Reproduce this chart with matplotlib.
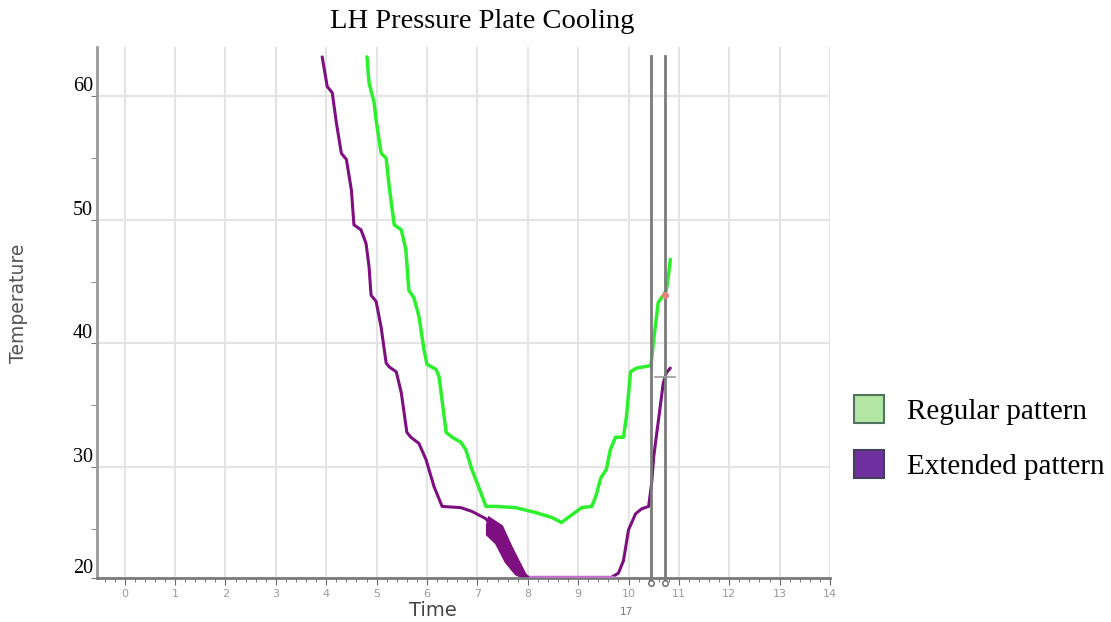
import matplotlib
matplotlib.use('Agg')
import matplotlib.pyplot as plt
from matplotlib.patches import Patch
from matplotlib.ticker import MultipleLocator

# curva patron regular (verde)
reg_x = [4.81, 4.85, 4.95, 4.99, 5.09, 5.19, 5.25, 5.35, 5.49, 5.58, 5.64, 5.74, 5.84,
         5.94, 6.00, 6.18, 6.24, 6.38, 6.50, 6.67, 6.77, 6.89, 7.07, 7.17, 7.37, 7.76,
         8.16, 8.48, 8.67, 8.87, 9.07, 9.27, 9.35, 9.45, 9.56, 9.64, 9.74, 9.90, 9.96,
         10.04, 10.16, 10.44, 10.46, 10.50, 10.59, 10.69, 10.75, 10.79, 10.83]
reg_y = [63.2, 61.1, 59.5, 58.1, 55.4, 55.0, 52.7, 49.6, 49.2, 47.6, 44.3, 43.7, 42.2,
         39.5, 38.3, 37.9, 37.3, 32.8, 32.4, 32.0, 31.4, 29.8, 27.9, 26.8, 26.8, 26.7,
         26.3, 25.9, 25.5, 26.1, 26.7, 26.8, 27.6, 29.1, 29.8, 31.4, 32.4, 32.4, 34.1,
         37.7, 38.0, 38.2, 38.7, 40.3, 43.3, 43.9, 44.3, 45.4, 46.8]

# curva patron extendido (violeta)
ext_x = [3.92, 4.02, 4.12, 4.20, 4.30, 4.40, 4.50, 4.55, 4.69, 4.79, 4.85, 4.89, 4.99,
         5.09, 5.19, 5.25, 5.39, 5.49, 5.60, 5.68, 5.84, 5.98, 6.14, 6.30, 6.67, 6.89,
         7.17, 7.40, 7.60, 7.80, 8.02, 8.36, 9.66, 9.80, 9.90, 10.00, 10.14, 10.26,
         10.40, 10.46, 10.50, 10.55, 10.63, 10.69, 10.75, 10.83]
ext_y = [63.2, 60.8, 60.3, 57.9, 55.4, 54.9, 52.4, 49.6, 49.2, 48.1, 46.2, 43.9, 43.4,
         41.3, 38.4, 38.1, 37.7, 36.0, 32.8, 32.4, 31.9, 30.6, 28.4, 26.8, 26.7, 26.4,
         25.8, 24.6, 22.8, 21.6, 21.05, 21.05, 21.05, 21.4, 22.4, 24.9, 26.2, 26.6,
         26.8, 28.7, 30.8, 32.4, 34.9, 36.8, 37.6, 38.0]

# tramo plano del fondo (se ve mas claro)
fondo_x = [8.05, 9.70]
fondo_y = [21.1, 21.1]

# zona ruidosa (banda gruesa) del violeta
banda_sup_x = [7.19, 7.23, 7.49, 7.68, 7.88, 7.98]
banda_sup_y = [25.3, 25.9, 25.2, 23.5, 21.9, 21.1]
banda_inf_x = [7.92, 7.76, 7.56, 7.37, 7.19]
banda_inf_y = [21.0, 21.3, 22.3, 23.8, 24.5]

cursores = [10.455, 10.733]
x_ticks = list(range(0, 15))
y_ticks = [21.0, 30, 40, 50, 60]
y_labels = ['20', '30', '40', '50', '60']

verde = '#2cf02c'
violeta = '#7d0f80'

fig = plt.figure(figsize=(11.11, 6.22), dpi=100)
ax = fig.add_axes([0.0873, 0.0707, 0.6598, 0.8537])

ax.set_xlim(-0.55, 14.0)
ax.set_ylim(21.0, 64.0)

ax.grid(True, color='#e4e4e4', lw=1.5)
ax.set_axisbelow(True)

ax.plot(reg_x, reg_y, color=verde, lw=2.5, solid_capstyle='round', solid_joinstyle='round')
ax.plot(ext_x, ext_y, color=violeta, lw=2.2, solid_capstyle='round', solid_joinstyle='round')
ax.plot(fondo_x, fondo_y, color='#c070c8', lw=2.2, zorder=3)
ax.fill(banda_sup_x + banda_inf_x, banda_sup_y + banda_inf_y, color=violeta, lw=1.5)

# cursores verticales
for c in cursores:
    ax.plot([c, c], [20.6, 63.3], color='#7a7a7a', lw=2, clip_on=False, zorder=5)
    ax.plot([c], [20.6], marker='o', ms=4, mfc='white', mec='#666666', mew=1,
            clip_on=False, zorder=6)
ax.plot([10.53, 10.93], [37.3, 37.3], color='#999999', lw=1.2, zorder=6)
ax.plot([10.73], [43.9], marker='o', ms=4, color='#f08080', zorder=7)

for s in ['top', 'right']:
    ax.spines[s].set_visible(False)
ax.spines['left'].set_color('#9a9a9a')
ax.spines['left'].set_linewidth(2)
ax.spines['bottom'].set_color('#7a7a7a')
ax.spines['bottom'].set_linewidth(2)

ax.set_xticks(x_ticks)
ax.set_xticklabels([str(t) for t in x_ticks], fontsize=8, color='#9a9a9a')
ax.xaxis.set_minor_locator(MultipleLocator(0.2))
ax.tick_params(axis='x', which='major', length=5, color='#666666', pad=3)
ax.tick_params(axis='x', which='minor', length=3, color='#666666')

ax.set_yticks(y_ticks)
ax.set_yticklabels(y_labels, family='Liberation Serif', fontsize=14.5, color='black')
for lab in ax.get_yticklabels():
    lab.set_verticalalignment('bottom')
ax.set_yticks([25, 35, 45, 55], minor=True)
ax.tick_params(axis='y', which='both', length=4, color='#777777', pad=-1)

fig.text(0.390, 0.018, 'Time', fontsize=14, color='#444444', ha='center', va='center')
fig.text(0.564, 0.016, '17', fontsize=7.5, color='#777777', ha='center', va='center')
fig.text(0.017, 0.513, 'Temperature', fontsize=13.5, color='#555555', rotation=90,
         ha='center', va='center')
fig.text(0.434, 0.966, 'LH Pressure Plate Cooling', family='Liberation Serif',
         fontsize=20.5, ha='center', va='center')

handles = [Patch(facecolor='#b3e6a3', edgecolor='#4f7560', lw=1.5, label='Regular pattern'),
           Patch(facecolor='#7030a0', edgecolor='#40405a', lw=1.5, label='Extended pattern')]
fig.legend(handles=handles, loc='center left', bbox_to_anchor=(0.745, 0.2966),
           frameon=False, prop={'family': 'Liberation Serif', 'size': 21},
           handlelength=1.03, handleheight=1.1, handletextpad=0.79, labelspacing=0.85)

fig.savefig('out.png', dpi=100)
